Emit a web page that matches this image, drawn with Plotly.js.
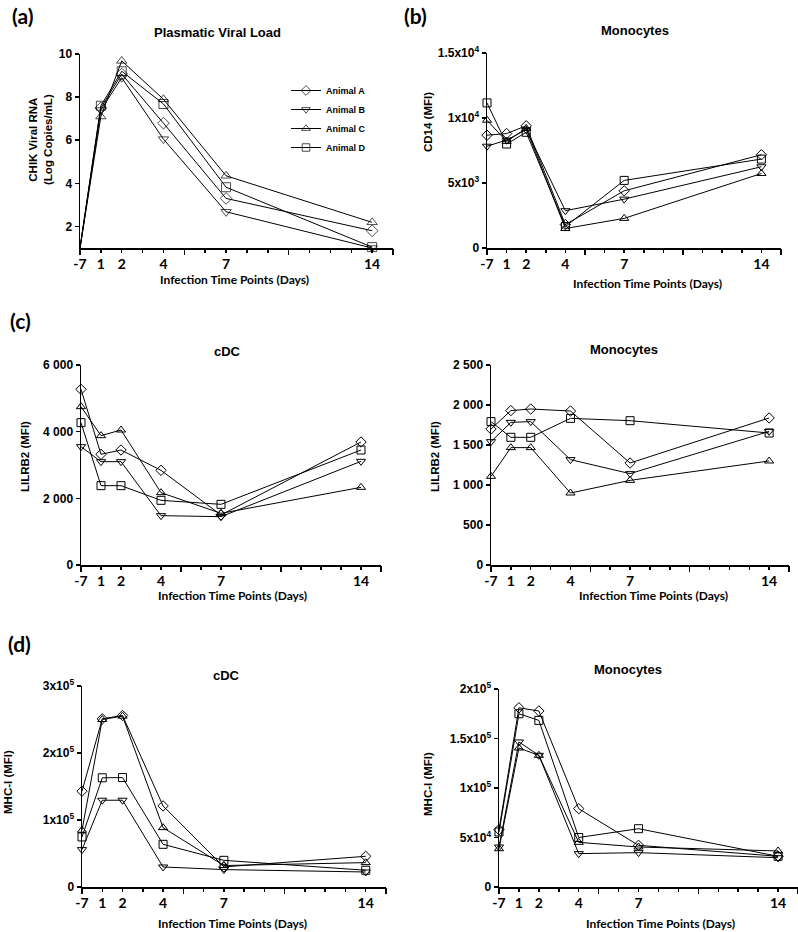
<!DOCTYPE html>
<html><head><meta charset="utf-8">
<script src="https://cdn.plot.ly/plotly-3.0.1.min.js"></script>
<style>html,body{margin:0;padding:0;background:#fff}#chart{width:798px;height:932px}</style>
</head><body><div id="chart"></div>
<script>
// ---- data ----
const days = [-7, 1, 2, 4, 7, 14];
const dayLabels = ['-7', '1', '2', '4', '7', '14'];
const animals = ['Animal A', 'Animal B', 'Animal C', 'Animal D'];

// (a) Plasmatic viral load, log copies/mL
const viralLoad = [
  [1, 7.5, 9.07, 6.79, 3.3, 1.8],
  [1, 7.4, 8.9, 6.05, 2.68, 1.0],
  [1, 7.1, 9.68, 7.9, 4.35, 2.19],
  [1, 7.6, 9.2, 7.68, 3.82, 1.04]
];
// (b) Monocytes CD14 MFI
const cd14Mono = [
  [8680, 8800, 9400, 1800, 4400, 7170],
  [7830, 8300, 9100, 2870, 3760, 6250],
  [9830, 8200, 9200, 1500, 2280, 5730],
  [11160, 8000, 8900, 1650, 5200, 6840]
];
// (c) LILRB2 MFI
const lilrb2cDC = [
  [5270, 3320, 3450, 2840, 1500, 3690],
  [3550, 3100, 3100, 1480, 1450, 3110],
  [4750, 3880, 4050, 2170, 1550, 2330],
  [4270, 2380, 2380, 1940, 1820, 3450]
];
const lilrb2Mono = [
  [1700, 1930, 1950, 1925, 1275, 1838],
  [1542, 1783, 1792, 1317, 1142, 1670],
  [1108, 1467, 1467, 900, 1058, 1300],
  [1792, 1596, 1596, 1833, 1804, 1650]
];
// (d) MHC-I MFI
const mhcIcDC = [
  [143000, 251000, 256000, 121000, 30000, 45800],
  [55800, 129500, 129500, 29900, 26000, 22400],
  [84700, 250000, 255000, 88600, 32000, 36400],
  [74700, 163000, 163300, 63700, 39800, 25000]
];
const mhcIMono = [
  [57900, 181000, 177800, 79100, 42100, 31000],
  [40400, 146500, 133000, 33700, 34700, 29600],
  [38700, 140400, 133000, 45100, 40400, 36400],
  [55600, 175000, 168300, 50000, 58900, 31000]
];

// tick labels
const viralTicks = [2, 4, 6, 8, 10];
const viralTickText = ['2', '4', '6', '8', '10'];
const cd14Ticks = [0, 5000, 10000, 15000];
const cd14TickText = ['0', '5x10<sup>3</sup>', '1x10<sup>4</sup>', '1.5x10<sup>4</sup>'];
const lilrbDCTicks = [0, 2000, 4000, 6000];
const lilrbDCTickText = ['0', '2 000', '4 000', '6 000'];
const lilrbMoTicks = [0, 500, 1000, 1500, 2000, 2500];
const lilrbMoTickText = ['0', '500', '1 000', '1 500', '2 000', '2 500'];
const mhcDCTicks = [0, 100000, 200000, 300000];
const mhcDCTickText = ['0', '1x10<sup>5</sup>', '2x10<sup>5</sup>', '3x10<sup>5</sup>'];
const mhcMoTicks = [0, 50000, 100000, 150000, 200000];
const mhcMoTickText = ['0', '5x10<sup>4</sup>', '1x10<sup>5</sup>', '1.5x10<sup>5</sup>', '2x10<sup>5</sup>'];

// ---- layout helpers ----
const W = 798, H = 932;
const px = v => v / W;
const py = v => 1 - v / H;
// pre-infection sample (day -7) is drawn at the origin of the time axis
const xPos = days.map(d => Math.max(d, 0));
const xMax = 15;
const minorDays = [];
for (let d = 0; d <= xMax; d++) if (!xPos.includes(d)) minorDays.push(d);
const majorDays = [0, 5, 10, 15];

const symbols = ['diamond-open', 'triangle-down-open', 'triangle-up-open', 'square-open'];
const tickFontY = {family: 'Liberation Sans, Arial, sans-serif', size: 12, color: '#000', weight: 'bold'};
const tickFontX = {family: 'Lato, sans-serif', size: 14, color: '#000', weight: 'bold'};

const panels = [
  {vals: viralLoad, xd: [80, 393], yd: [54, 248], range: [1, 10], tv: viralTicks, tt: viralTickText,
   title: 'Plasmatic Viral Load', tp: [217, 32], yt: 'CHIK Viral RNA<br>(Log Copies/mL)', ytp: [40, 140],
   xtp: [234, 279], ms: 9, hideBaseline: true, legend: true},
  {vals: cd14Mono, xd: [487, 781], yd: [53, 248], range: [0, 15000], tv: cd14Ticks, tt: cd14TickText,
   title: 'Monocytes', tp: [635, 31], yt: 'CD14 (MFI)', ytp: [428, 122], xtp: [647, 283], ms: 8},
  {vals: lilrb2cDC, xd: [81, 381], yd: [365, 565], range: [0, 6000], tv: lilrbDCTicks, tt: lilrbDCTickText,
   title: 'cDC', tp: [227, 351], yt: 'LILRB2 (MFI)', ytp: [25, 457], xtp: [232, 595], ms: 8},
  {vals: lilrb2Mono, xd: [491, 789], yd: [365, 565], range: [0, 2500], tv: lilrbMoTicks, tt: lilrbMoTickText,
   title: 'Monocytes', tp: [624, 349], yt: 'LILRB2 (MFI)', ytp: [435, 457], xtp: [653, 595], ms: 8},
  {vals: mhcIcDC, xd: [82, 386], yd: [686, 887], range: [0, 300000], tv: mhcDCTicks, tt: mhcDCTickText,
   title: 'cDC', tp: [226, 675], yt: 'MHC-I (MFI)', ytp: [8, 782], xtp: [232, 923], ms: 8},
  {vals: mhcIMono, xd: [499, 798], yd: [689, 887], range: [0, 200000], tv: mhcMoTicks, tt: mhcMoTickText,
   title: 'Monocytes', tp: [628, 669], yt: 'MHC-I (MFI)', ytp: [428, 784], xtp: [660, 923], ms: 8}
];

const data = [];
const layout = {
  width: W, height: H,
  margin: {l: 0, r: 0, t: 0, b: 0},
  paper_bgcolor: '#fff', plot_bgcolor: 'rgba(0,0,0,0)',
  showlegend: true,
  legend: {x: px(286), y: py(76), xanchor: 'left', yanchor: 'top', bgcolor: 'rgba(0,0,0,0)',
           font: {family: 'Liberation Sans, Arial, sans-serif', size: 9, color: '#000', weight: 'bold'},
           tracegroupgap: 0, itemwidth: 30},
  annotations: []
};

const ann = (text, p, font, extra) => Object.assign({
  text: text, x: px(p[0]), y: py(p[1]), xref: 'paper', yref: 'paper',
  xanchor: 'center', yanchor: 'middle', showarrow: false, font: font
}, extra || {});

const titleFont = {family: 'Liberation Sans, Arial, sans-serif', size: 13, color: '#000', weight: 'bold'};
const yTitleFont = {family: 'Liberation Sans, Arial, sans-serif', size: 11.5, color: '#000', weight: 'bold'};
const xTitleFont = {family: 'Lato, sans-serif', size: 12, color: '#000', weight: 'bold'};
const labelFont = {family: 'Lato, sans-serif', size: 21, color: '#000', weight: 'bold'};

panels.forEach((p, i) => {
  const n = i + 1;
  const xa = 'x' + (n === 1 ? '' : n), ya = 'y' + (n === 1 ? '' : n);
  const ov = 'x' + (n + 6);
  p.vals.forEach((series, k) => {
    data.push({
      type: 'scatter', mode: 'lines+markers', x: xPos, y: series,
      xaxis: xa, yaxis: ya, name: animals[k], legendgroup: animals[k],
      showlegend: !!p.legend, cliponaxis: false,
      line: {color: '#000', width: 1},
      marker: {symbol: symbols[k], color: '#000',
               size: p.hideBaseline ? days.map(d => d < 0 ? 0 : p.ms) : p.ms,
               line: {color: '#000', width: 1}}
    });
  });
  // overlay axis carrying the long (5-day) ticks
  data.push({type: 'scatter', x: [], y: [], xaxis: ov, yaxis: ya, showlegend: false, hoverinfo: 'skip'});

  layout['xaxis' + (n === 1 ? '' : n)] = {
    domain: [px(p.xd[0]), px(p.xd[1])], anchor: ya, range: [0, xMax],
    showline: true, linecolor: '#000', linewidth: 1.5, zeroline: false, showgrid: false,
    tickmode: 'array', tickvals: xPos, ticktext: dayLabels, ticks: 'outside', ticklen: 3,
    tickwidth: 1.5, tickcolor: '#000', tickfont: tickFontX,
    minor: {tickmode: 'array', tickvals: minorDays, ticks: 'outside', ticklen: 3, tickwidth: 1.5, tickcolor: '#000', showgrid: false}
  };
  layout['xaxis' + (n + 6)] = {
    overlaying: xa, anchor: ya, range: [0, xMax], showline: false, zeroline: false, showgrid: false,
    tickmode: 'array', tickvals: majorDays, ticks: 'outside', ticklen: 6, tickwidth: 1.5,
    tickcolor: '#000', showticklabels: false
  };
  layout['yaxis' + (n === 1 ? '' : n)] = {
    domain: [py(p.yd[1]), py(p.yd[0])], anchor: xa, range: p.range,
    showline: true, linecolor: '#000', linewidth: 1.5, zeroline: false, showgrid: false,
    tickmode: 'array', tickvals: p.tv, ticktext: p.tt, ticks: 'outside', ticklen: 4,
    tickwidth: 1.5, tickcolor: '#000', tickfont: tickFontY
  };
  layout.annotations.push(ann(p.title, p.tp, titleFont));
  layout.annotations.push(ann(p.yt, p.ytp, yTitleFont, {textangle: -90}));
  layout.annotations.push(ann('Infection Time Points (Days)', p.xtp, xTitleFont));
});

layout.annotations.push(ann('(a)', [22, 15], labelFont));
layout.annotations.push(ann('(b)', [415, 15], labelFont));
layout.annotations.push(ann('(c)', [20, 320], labelFont));
layout.annotations.push(ann('(d)', [19, 643], labelFont));

Plotly.newPlot('chart', data, layout, {displayModeBar: false, staticPlot: true});
</script>
</body></html>
